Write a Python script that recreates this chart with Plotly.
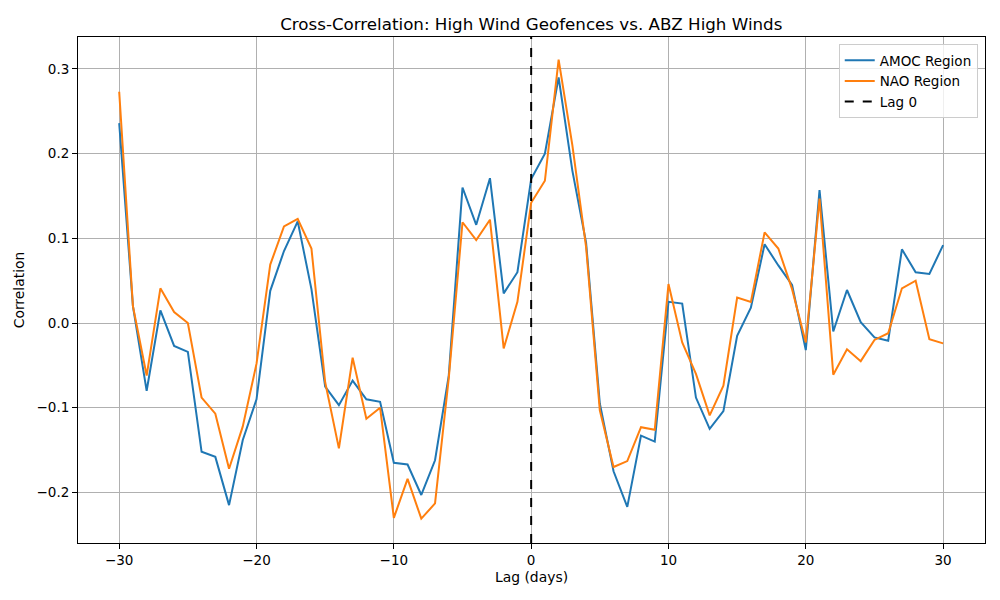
import plotly.graph_objects as go

lags = list(range(-30, 31))
amoc = [0.236, 0.02, -0.08, 0.015, -0.027, -0.034, -0.152, -0.158, -0.215, -0.138,
        -0.09, 0.038, 0.085, 0.12, 0.04, -0.075, -0.097, -0.068, -0.09, -0.093,
        -0.165, -0.167, -0.203, -0.162, -0.062, 0.16, 0.116, 0.171, 0.035, 0.06,
        0.17,
        0.2, 0.29, 0.18, 0.095, -0.095, -0.175, -0.217, -0.133, -0.14, 0.025,
        0.023, -0.088, -0.125, -0.104, -0.015, 0.018, 0.093, 0.068, 0.045, -0.032,
        0.157, -0.01, 0.039, 0.001, -0.017, -0.021, 0.087, 0.06, 0.058, 0.092]
nao = [0.273, 0.02, -0.062, 0.041, 0.013, 0.0, -0.088, -0.107, -0.172, -0.122,
       -0.048, 0.069, 0.114, 0.123, 0.088, -0.07, -0.148, -0.041, -0.113, -0.1,
       -0.23, -0.184, -0.231, -0.213, -0.065, 0.119, 0.098, 0.122, -0.03, 0.025,
       0.142,
       0.168, 0.311, 0.21, 0.09, -0.103, -0.17, -0.163, -0.123, -0.126, 0.046,
       -0.023, -0.06, -0.109, -0.074, 0.03, 0.025, 0.107, 0.088, 0.04, -0.023,
       0.147, -0.061, -0.031, -0.045, -0.02, -0.012, 0.041, 0.05, -0.019, -0.024]

x_range = [-33, 33.05]
y_range = [-0.2597, 0.3377]

fig = go.Figure()
fig.add_trace(go.Scatter(x=lags, y=amoc, mode="lines", name="AMOC Region",
                         line=dict(color="#1f77b4", width=2)))
fig.add_trace(go.Scatter(x=lags, y=nao, mode="lines", name="NAO Region",
                         line=dict(color="#ff7f0e", width=2)))
fig.add_trace(go.Scatter(x=[0, 0], y=y_range, mode="lines", name="Lag 0",
                         line=dict(color="black", width=2, dash="dash")))

font = "DejaVu Sans"
axis_common = dict(showline=True, linecolor="black", linewidth=1, mirror=True,
                   ticks="outside", ticklen=5, tickcolor="black",
                   showgrid=True, gridcolor="#b0b0b0", gridwidth=1,
                   zeroline=False, automargin=False,
                   tickfont=dict(family=font, size=13.5, color="black"))

fig.update_layout(
    width=992, height=592,
    paper_bgcolor="white", plot_bgcolor="white",
    margin=dict(l=70, r=15, t=29, b=57, autoexpand=False),
    title=dict(text="Cross-Correlation: High Wind Geofences vs. ABZ High Winds",
               x=0.5275, xanchor="center", y=0.9735, yanchor="middle",
               font=dict(family=font, size=16.7, color="black")),
    xaxis=dict(range=x_range, tickvals=[-30, -20, -10, 0, 10, 20, 30],
               title=dict(text="Lag (days)", font=dict(family=font, size=13.9, color="black"), standoff=5),
               **axis_common),
    yaxis=dict(range=y_range, tickvals=[-0.2, -0.1, 0.0, 0.1, 0.2, 0.3],
               tickformat=".1f",
               title=dict(text="Correlation", font=dict(family=font, size=13.9, color="black"), standoff=8),
               **axis_common),
    legend=dict(x=0.992, y=0.986, xanchor="right", yanchor="top",
                bgcolor="rgba(255,255,255,0.8)", bordercolor="#cccccc", borderwidth=1,
                font=dict(family=font, size=13.5, color="black"),
                tracegroupgap=0, itemwidth=30),
    showlegend=True,
)

fig.write_html("out.html")
